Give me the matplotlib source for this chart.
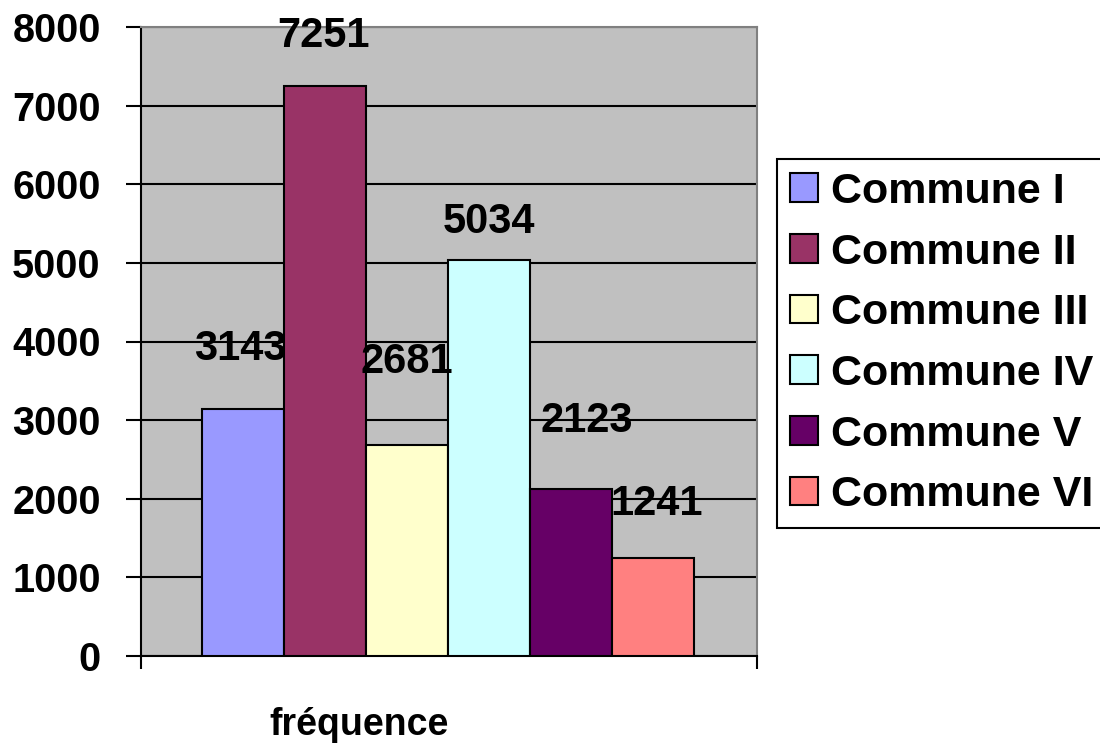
import numpy as np
import matplotlib
matplotlib.use('Agg')
import matplotlib.pyplot as plt

communes = ['Commune I', 'Commune II', 'Commune III', 'Commune IV', 'Commune V', 'Commune VI']
frequences = [3143, 7251, 2681, 5034, 2123, 1241]
couleurs = ['#9999FF', '#993366', '#FFFFCC', '#CCFFFF', '#660066', '#FF8080']
yticks = [0, 1000, 2000, 3000, 4000, 5000, 6000, 7000, 8000]

# label offsets above each bar top (pixels)
decal = [(-3, 49), (-2, 39), (0, 72), (0, 27), (16, 57), (4, 43)]

plt.rcParams['font.family'] = ['Liberation Sans', 'DejaVu Sans']
plt.rcParams['font.weight'] = 'bold'

fig = plt.figure(figsize=(11, 7.44), dpi=100)
ax = fig.add_axes([141/1100, 1-656/744, 616/1100, 629/744])
ax.set_facecolor('#C0C0C0')

x = np.arange(len(communes))
bars = ax.bar(x, frequences, width=1.0, color=couleurs, edgecolor='black',
              linewidth=1.5, label=communes, zorder=3)

ax.set_ylim(0, 8000)
ax.set_xlim(-1.244, 6.268)
ax.set_yticks(yticks)
ax.set_yticklabels([str(v) for v in yticks], fontsize=28.5, fontweight='bold')
ax.set_xticks([-1.244, 6.268])
ax.set_xticklabels(['', ''])
ax.tick_params(axis='y', direction='out', length=11, width=1.5, pad=18)
ax.tick_params(axis='x', direction='out', length=9, width=1.5)
ax.yaxis.grid(True, color='black', linewidth=1.5, zorder=1)
ax.set_axisbelow(True)

for s in ['left', 'bottom']:
    ax.spines[s].set_linewidth(1.5)
    ax.spines[s].set_color('black')
for s in ['top', 'right']:
    ax.spines[s].set_linewidth(1.5)
    ax.spines[s].set_color('#808080')

for xi, v, (dx, dy) in zip(x, frequences, decal):
    ax.annotate(str(v), xy=(xi, v), xytext=(dx, dy), textcoords='offset pixels',
                ha='center', va='baseline', fontsize=30, fontweight='bold', zorder=5)

fig.text(359/1100, 1-735/744, 'fréquence', ha='center', va='baseline',
         fontsize=27, fontweight='bold')

leg = fig.legend(handles=bars, labels=communes, loc='upper left',
                 bbox_to_anchor=(777/1100, 1-159/744), borderaxespad=0,
                 prop={'weight': 'bold', 'size': 31},
                 handlelength=0.65, handleheight=0.65, handletextpad=0.3,
                 labelspacing=0.48, borderpad=0.3, fancybox=False, frameon=True,
                 framealpha=1)
leg.get_frame().set_edgecolor('black')
leg.get_frame().set_linewidth(1.5)

fig.savefig('out.png', dpi=100)
